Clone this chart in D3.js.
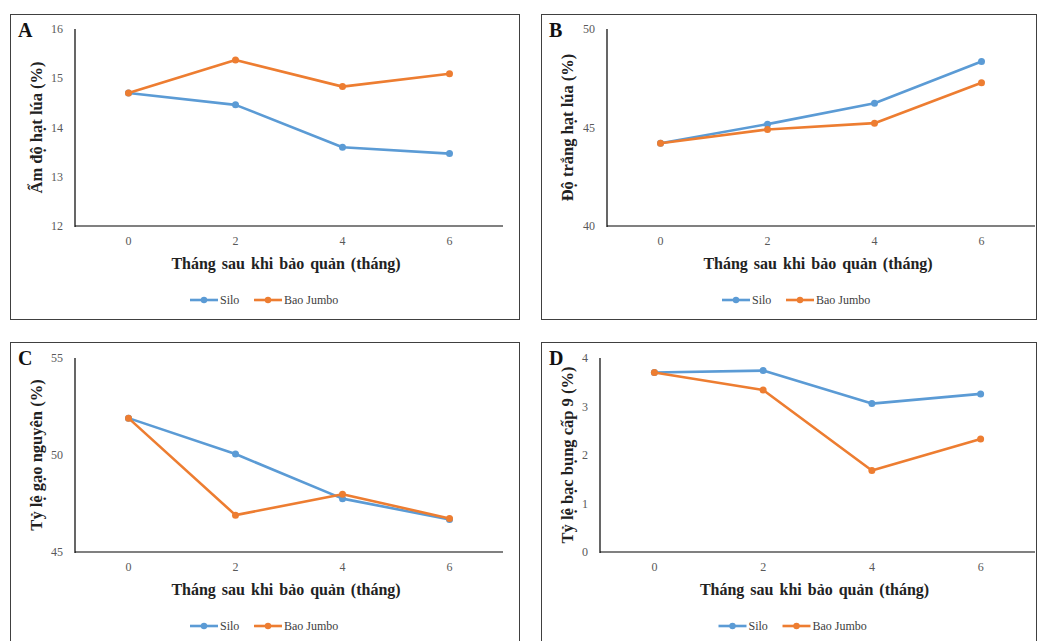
<!DOCTYPE html>
<html>
<head>
<meta charset="utf-8">
<script src="https://d3js.org/d3.v7.min.js"></script>
<style>
  body { margin: 0; background: #fff; }
  svg text { font-family: "Liberation Serif", "Times New Roman", serif; }
</style>
</head>
<body>
<div id="chart"></div>
<script>
// data
const months = ["0", "2", "4", "6"];
const seriesNames = ["Silo", "Bao Jumbo"];
const seriesColors = ["#5B9BD5", "#ED7D31"];

const moistureSilo = [14.7, 14.46, 13.6, 13.47];
const moistureJumbo = [14.7, 15.37, 14.83, 15.09];
const whitenessSilo = [44.2, 45.17, 46.23, 48.35];
const whitenessJumbo = [44.2, 44.9, 45.22, 47.27];
const headRiceSilo = [51.9, 50.05, 47.75, 46.68];
const headRiceJumbo = [51.9, 46.9, 47.98, 46.73];
const chalkySilo = [3.7, 3.74, 3.06, 3.26];
const chalkyJumbo = [3.7, 3.34, 1.68, 2.33];

const xTitle = "Tháng sau khi bảo quản (tháng)";

const panels = [
  { letter: "A", yTitle: "Ẩm độ hạt lúa (%)", domain: [12, 16], ticks: [12, 13, 14, 15, 16],
    series: [moistureSilo, moistureJumbo],
    box: [10, 14, 519, 319], plot: [75, 503, 29, 226] },
  { letter: "B", yTitle: "Độ trắng hạt lúa (%)", domain: [40, 50], ticks: [40, 45, 50],
    series: [whitenessSilo, whitenessJumbo],
    box: [541, 14, 1036, 319], plot: [607, 1035, 29, 226] },
  { letter: "C", yTitle: "Tỷ lệ gạo nguyên (%)", domain: [45, 55], ticks: [45, 50, 55],
    series: [headRiceSilo, headRiceJumbo],
    box: [10, 342, 519, 660], plot: [75, 503, 358, 552] },
  { letter: "D", yTitle: "Tỷ lệ bạc bụng cấp 9 (%)", domain: [0, 4], ticks: [0, 1, 2, 3, 4],
    series: [chalkySilo, chalkyJumbo],
    box: [541, 342, 1036, 660], plot: [600, 1035, 358, 552] }
];

const svg = d3.select("#chart").append("svg")
  .attr("width", 1039).attr("height", 641);

panels.forEach(p => {
  const g = svg.append("g");
  const [bx0, by0, bx1, by1] = p.box;
  const [px0, px1, pyTop, pyBot] = p.plot;

  g.append("rect")
    .attr("x", bx0 + 0.5).attr("y", by0 + 0.5)
    .attr("width", bx1 - bx0).attr("height", by1 - by0)
    .attr("fill", "#fff").attr("stroke", "#404040").attr("stroke-width", 1);

  const x = d3.scalePoint().domain(months).range([px0, px1]).padding(0.5);
  const y = d3.scaleLinear().domain(p.domain).range([pyBot, pyTop]);

  // x axis line (gray) and tick labels
  g.append("line")
    .attr("x1", px0).attr("x2", px1).attr("y1", pyBot).attr("y2", pyBot)
    .attr("stroke", "#808080").attr("stroke-width", 2);
  g.selectAll(".xt").data(months).enter().append("text")
    .attr("x", d => x(d)).attr("y", pyBot + 19)
    .attr("text-anchor", "middle").attr("font-size", 12).attr("fill", "#595959")
    .text(d => d);

  // y axis line (black) and tick labels
  g.append("line")
    .attr("x1", px0).attr("x2", px0).attr("y1", pyTop).attr("y2", pyBot + 1)
    .attr("stroke", "#000").attr("stroke-width", 1.2);
  g.selectAll(".yt").data(p.ticks).enter().append("text")
    .attr("x", px0 - 12).attr("y", d => y(d) + 4)
    .attr("text-anchor", "end").attr("font-size", 12).attr("fill", "#595959")
    .text(d => d);

  // titles
  g.append("text")
    .attr("x", (px0 + px1) / 2 - 3).attr("y", pyBot + 43)
    .attr("text-anchor", "middle").attr("font-size", 16).attr("font-weight", "bold")
    .attr("word-spacing", 2).attr("fill", "#222")
    .text(xTitle);
  g.append("text")
    .attr("transform", `translate(${bx0 + 32},${(pyTop + pyBot) / 2}) rotate(-90)`)
    .attr("text-anchor", "middle").attr("font-size", 16.5).attr("font-weight", "bold")
    .attr("fill", "#222")
    .text(p.yTitle);
  g.append("text")
    .attr("x", bx0 + 8).attr("y", by0 + 23)
    .attr("font-size", 20).attr("font-weight", "bold").attr("fill", "#111")
    .text(p.letter);

  // series
  const line = d3.line().x((d, i) => x(months[i])).y(d => y(d));
  p.series.forEach((vals, si) => {
    g.append("path").datum(vals)
      .attr("d", line).attr("fill", "none")
      .attr("stroke", seriesColors[si]).attr("stroke-width", 2.6)
      .attr("stroke-linejoin", "round");
    g.selectAll(".pt" + si).data(vals).enter().append("circle")
      .attr("cx", (d, i) => x(months[i])).attr("cy", d => y(d))
      .attr("r", 3.5).attr("fill", seriesColors[si]);
  });

  // legend
  const ly = pyBot + 74;
  const lx = (px0 + px1) / 2 - 99;
  const offsets = [0, 64];
  seriesNames.forEach((name, si) => {
    const ox = lx + offsets[si];
    g.append("line")
      .attr("x1", ox).attr("x2", ox + 28).attr("y1", ly).attr("y2", ly)
      .attr("stroke", seriesColors[si]).attr("stroke-width", 2.6);
    g.append("circle").attr("cx", ox + 14).attr("cy", ly).attr("r", 3.2)
      .attr("fill", seriesColors[si]);
    g.append("text")
      .attr("x", ox + 30).attr("y", ly + 4)
      .attr("font-size", 12).attr("fill", "#404040")
      .text(name);
  });
});
</script>
</body>
</html>
